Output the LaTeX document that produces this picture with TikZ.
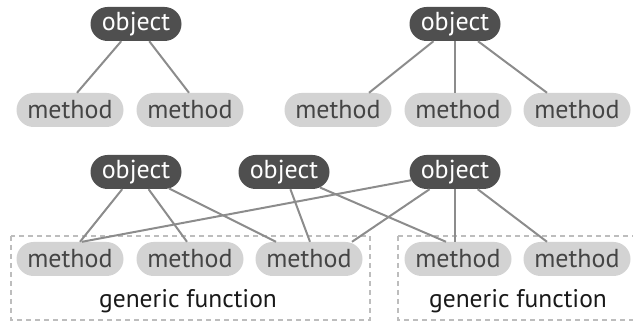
\documentclass[tikz,border=0pt]{standalone}
\usepackage{fontspec}
\setmainfont{PT Sans}
\usetikzlibrary{shapes.misc}
\definecolor{objfill}{HTML}{4F4F4F}
\definecolor{methfill}{HTML}{D3D3D3}
\definecolor{methtext}{HTML}{454545}
\definecolor{linkcol}{HTML}{8C8C8C}
\definecolor{boxcol}{HTML}{BDBDBD}
\tikzset{
  objnode/.style={rounded rectangle, fill=objfill, text=white, minimum width=91pt, minimum height=34pt, inner sep=0pt, font=\fontsize{26}{26}\selectfont},
  methnode/.style={rounded rectangle, fill=methfill, text=methtext, minimum width=107pt, minimum height=34pt, inner sep=0pt, font=\fontsize{26}{26}\selectfont},
  link/.style={draw=linkcol, line width=2pt},
  gfbox/.style={draw=boxcol, line width=1.3pt, dash pattern=on 5pt off 4pt},
  gflabel/.style={text=black!90, anchor=base, font=\fontsize{25.5}{26}\selectfont}
}
\begin{document}
\begin{tikzpicture}[x=1pt,y=1pt]
\useasboundingbox (0,0) rectangle (633,321);
% dashed generic function boxes
\draw[gfbox] (11,85) rectangle (370,1);
\draw[gfbox] (398,85) -- (640,85);
\draw[gfbox] (398,85) -- (398,1) -- (640,1);
% top left
\node[objnode] (o1) at (136,297) {object};
\node[methnode] (a1) at (70,211) {method};
\node[methnode] (a2) at (190,211) {method};
% top right
\node[objnode] (o2) at (455,297) {object};
\node[methnode] (b1) at (338,211) {method};
\node[methnode] (b2) at (458,211) {method};
\node[methnode] (b3) at (577,211) {method};
% bottom
\node[objnode] (p1) at (136,149) {object};
\node[objnode] (p2) at (284,149) {object};
\node[objnode] (p3) at (455,149) {object};
\node[methnode] (c1) at (70,62) {method};
\node[methnode] (c2) at (190,62) {method};
\node[methnode] (c3) at (309,62) {method};
\node[methnode] (c4) at (458,62) {method};
\node[methnode] (c5) at (577,62) {method};
\node[gflabel] (g1) at (188,13) {generic function};
\node[gflabel] (g2) at (518,13) {generic function};
% links
\draw[link] (o1) -- ([xshift=7pt]a1.north);
\draw[link] (o1) -- ([xshift=-1pt]a2.north);
\draw[link] (o2) -- ([xshift=31pt]b1.north);
\draw[link] (o2.south) -- (b2.north -| o2.south);
\draw[link] (o2) -- ([xshift=-30pt]b3.north);
\draw[link] (p1) -- ([xshift=10pt]c1.north);
\draw[link] (p1) -- ([xshift=-3pt]c2.north);
\draw[link] (p1) -- ([xshift=-33pt]c3.north);
\draw[link] (p2) -- ([xshift=1pt]c3.north);
\draw[link] (p2) -- ([xshift=-12pt]c4.north);
\draw[link] (p3) -- ([xshift=12pt]c1.north);
\draw[link] (p3) -- ([xshift=43pt]c3.north);
\draw[link] (p3.south) -- (c4.north -| p3.south);
\draw[link] (p3) -- ([xshift=-30pt]c5.north);
\end{tikzpicture}
\end{document}
